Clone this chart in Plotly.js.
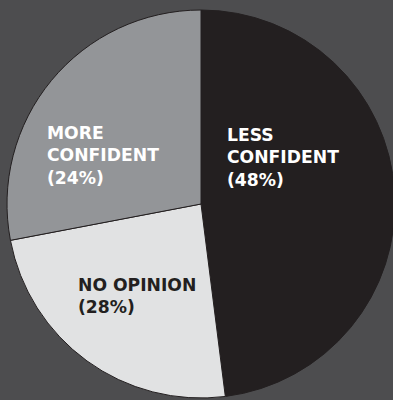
<!DOCTYPE html>
<html>
<head>
<meta charset="utf-8">
<script src="https://cdn.plot.ly/plotly-3.0.1.min.js"></script>
<style>
html,body{margin:0;padding:0;background:#4d4d4f;overflow:hidden;width:393px;height:400px;}
#chart{width:400px;height:400px;}
</style>
</head>
<body>
<div id="chart"></div>
<script>
// Data
const categories = ['LESS CONFIDENT', 'NO OPINION', 'MORE CONFIDENT'];
const labelLines = [['LESS', 'CONFIDENT'], ['NO OPINION'], ['MORE', 'CONFIDENT']];
const printedPct = [48, 28, 24];          // percentages printed on the chart
const wedgeValues = [48, 24, 28];         // wedge sizes as drawn
const sliceColors = ['#231f20', '#e1e2e3', '#939598'];
const textColors = ['#ffffff', '#231f20', '#ffffff'];
// label anchor points (pixels: left edge, top of text block)
const labelPos = [[225, 123], [76, 273], [45, 120.5]];

const W = 400, H = 400;
const cx = 201, cy = 204, r = 194;

const trace = {
  type: 'pie',
  labels: categories,
  values: wedgeValues,
  sort: false,
  direction: 'clockwise',
  rotation: 0,
  textinfo: 'none',
  hoverinfo: 'none',
  showlegend: false,
  marker: {colors: sliceColors, line: {color: '#231f20', width: 1}},
  domain: {x: [(cx - r) / W, (cx + r) / W], y: [(H - cy - r) / H, (H - cy + r) / H]}
};

const annotations = categories.map((c, i) => {
  const lines = labelLines[i].concat(['(' + printedPct[i] + '%)']);
  return {
    xref: 'paper', yref: 'paper',
    x: labelPos[i][0] / W, y: 1 - labelPos[i][1] / H,
    xanchor: 'left', yanchor: 'top', align: 'left',
    showarrow: false,
    text: '<b>' + lines.join('<br>') + '</b>',
    font: {family: 'DejaVu Sans, sans-serif', size: 17.2, color: textColors[i]}
  };
});

Plotly.newPlot('chart', [trace], {
  width: W, height: H,
  margin: {l: 0, r: 0, t: 0, b: 0},
  paper_bgcolor: '#4d4d4f',
  plot_bgcolor: '#4d4d4f',
  annotations: annotations
}, {displayModeBar: false, staticPlot: true});
</script>
</body>
</html>
